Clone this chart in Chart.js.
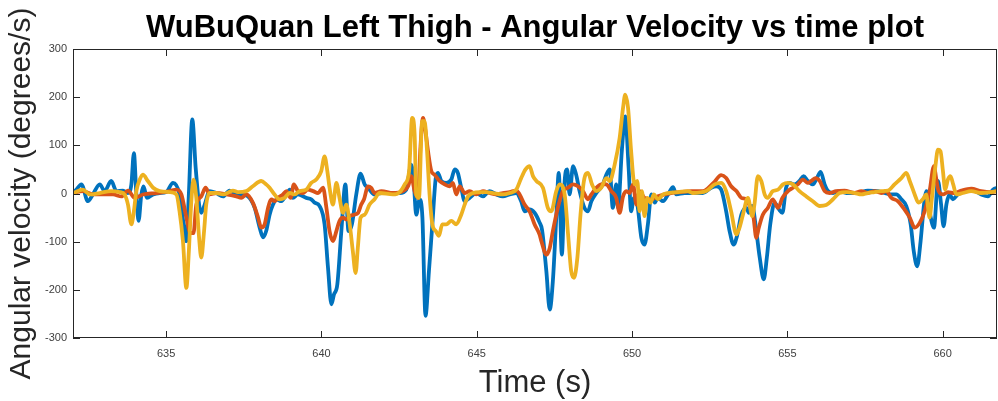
<!DOCTYPE html>
<html>
<head>
  <title>WuBuQuan Left Thigh - Angular Velocity</title>
  <script src="https://cdn.jsdelivr.net/npm/chart.js"></script>
  <style>
    html, body { margin: 0; padding: 0; background: #fff; }
  </style>
</head>
<body>

  <canvas id="velChart" width="998" height="401"></canvas>

  <script>
    // left thigh gyro, three axes: [time (s), angular velocity (deg/s)]
    const velX = [
      [632.00, 1], [632.11, 8], [632.27, 19], [632.48, -16], [632.64, -2], [632.86, 19], [633.02, 5], [633.23, 26],
      [633.40, 5], [633.61, 6], [633.77, 1], [633.88, 19], [633.96, 84], [634.04, -2], [634.11, -57], [634.20, -2],
      [634.27, 15], [634.38, -9], [634.58, -2], [634.79, 1], [635.00, 3], [635.22, 22], [635.43, -2], [635.59, -78],
      [635.65, -99], [635.73, -2], [635.84, 154], [635.95, 53], [636.06, -23], [636.13, -40], [636.24, -23], [636.40, 5],
      [636.61, 1], [636.83, -6], [637.04, 6], [637.20, 1], [637.42, -2], [637.63, -6], [637.85, -30], [638.01, -71],
      [638.12, -91], [638.22, -78], [638.33, -44], [638.44, -23], [638.55, -12], [638.71, -16], [638.87, -2], [638.98, 8],
      [639.08, -9], [639.24, -2], [639.51, -9], [639.67, -12], [639.78, -19], [639.94, -26], [640.10, -64], [640.21, -154],
      [640.32, -230], [640.40, -210], [640.51, -189], [640.64, -78], [640.77, 19], [640.87, -78], [640.98, -64], [641.12, -2],
      [641.26, 41], [641.39, 19], [641.50, 12], [641.71, -2], [641.93, 1], [642.52, 1], [642.73, 8], [642.89, 60],
      [642.97, 26], [643.05, -44], [643.16, -12], [643.25, -50], [643.35, -254], [643.46, -161], [643.57, -64], [643.68, 32],
      [643.75, 43], [643.86, 26], [644.02, 22], [644.18, 29], [644.29, 50], [644.39, 43], [644.50, 12], [644.61, -16],
      [644.77, -9], [644.98, 1], [645.20, -6], [645.41, 5], [645.63, -2], [645.84, -6], [646.06, -2], [646.27, 1],
      [646.43, -16], [646.54, -37], [646.70, -33], [646.86, -40], [647.02, -60], [647.10, -75], [647.24, -161], [647.35, -241],
      [647.45, -182], [647.56, -50], [647.64, 43], [647.74, -127], [647.83, 26], [647.91, 50], [647.99, -2], [648.10, 57],
      [648.20, 39], [648.31, 5], [648.47, -30], [648.58, -37], [648.69, -16], [648.85, 1], [649.06, 19], [649.17, 39],
      [649.28, 50], [649.38, -30], [649.49, 19], [649.55, -30], [649.67, 88], [649.78, 160], [649.89, 53], [649.97, -37],
      [650.06, -9], [650.17, -23], [650.30, -92], [650.40, -106], [650.51, -64], [650.62, -2], [650.73, -19], [650.83, -9],
      [651.00, -16], [651.16, -2], [651.32, 13], [651.42, -2], [651.69, 1], [651.96, 1], [652.28, 1], [652.55, 12],
      [652.71, 15], [652.87, 8], [653.03, -37], [653.14, -78], [653.27, -106], [653.38, -88], [653.52, -44], [653.68, -30],
      [653.76, -40], [653.87, -26], [654.00, -78], [654.11, -133], [654.24, -178], [654.34, -133], [654.45, -64], [654.59, -19],
      [654.73, -33], [654.84, -40], [654.96, 12], [655.07, 22], [655.23, 19], [655.39, 26], [655.52, 36], [655.66, 26],
      [655.82, 19], [655.95, 32], [656.07, 45], [656.20, 19], [656.31, 5], [656.47, 1], [656.68, 5], [656.90, 1],
      [657.27, 1], [657.59, 6], [657.92, 5], [658.13, 1], [658.35, -2], [658.51, -2], [658.67, -12], [658.83, -26],
      [658.97, -64], [659.07, -120], [659.18, -151], [659.29, -99], [659.40, -23], [659.48, 5], [659.58, -37], [659.72, -71],
      [659.85, 26], [659.95, -23], [660.03, -68], [660.12, -23], [660.22, -2], [660.33, -12], [660.49, -2], [660.81, 5],
      [661.03, 5], [661.24, -2], [661.46, -6], [661.62, 8], [661.78, 12]
    ];

    const velY = [
      [632.00, 1], [632.32, 5], [632.64, -2], [632.97, -2], [633.29, -2], [633.56, -6], [633.77, 6], [633.99, -9],
      [634.25, -2], [634.68, 1], [635.11, 5], [635.33, 8], [635.49, -2], [635.65, -50], [635.78, -82], [635.88, -82],
      [635.97, -23], [636.13, -6], [636.27, 12], [636.40, -2], [636.61, 1], [636.94, -2], [637.26, -6], [637.42, -9],
      [637.58, -2], [637.79, -19], [637.96, -50], [638.06, -71], [638.17, -64], [638.28, -30], [638.39, -12], [638.49, -16],
      [638.60, -9], [638.76, -2], [638.87, 5], [639.01, -9], [639.11, 19], [639.24, 5], [639.40, 1], [639.56, 8],
      [639.73, 5], [639.89, 1], [640.05, 12], [640.16, -30], [640.26, -78], [640.37, -99], [640.48, -78], [640.58, -57],
      [640.69, -50], [640.80, -54], [640.91, -47], [641.05, -44], [641.18, -40], [641.28, -23], [641.37, -12], [641.50, 15],
      [641.60, 12], [641.71, 1], [641.93, 5], [642.30, 1], [642.62, 5], [642.79, 15], [642.89, 36], [643.00, 5],
      [643.11, -9], [643.18, 88], [643.27, 157], [643.35, 129], [643.43, 88], [643.54, 46], [643.64, 39], [643.80, 26],
      [643.97, 19], [644.13, 15], [644.23, 22], [644.34, -2], [644.45, 15], [644.61, 1], [644.77, 5], [644.98, -2],
      [645.20, 5], [645.41, 1], [645.63, -2], [645.84, 1], [646.06, 3], [646.27, 6], [646.38, -2], [646.54, -23],
      [646.70, -37], [646.86, -64], [647.02, -85], [647.08, -99], [647.24, -127], [647.35, -113], [647.45, -78], [647.61, -30],
      [647.77, 5], [647.94, 12], [648.10, 19], [648.26, 15], [648.42, 5], [648.58, -12], [648.69, -2], [648.85, 12],
      [649.01, 19], [649.17, 19], [649.33, 5], [649.49, -9], [649.60, -40], [649.71, -6], [649.81, 5], [649.92, 1],
      [650.03, 19], [650.14, -23], [650.24, 5], [650.40, -9], [650.62, -12], [650.83, -6], [651.05, -2], [651.26, 1],
      [651.58, 3], [651.91, 5], [652.28, 5], [652.62, 22], [652.87, 38], [653.03, 32], [653.19, 15], [653.36, 5],
      [653.52, -9], [653.68, -12], [653.81, -30], [653.91, -50], [654.00, -92], [654.08, -71], [654.21, -44], [654.37, -30],
      [654.53, -12], [654.70, -30], [654.84, -9], [655.02, 5], [655.18, 12], [655.34, 19], [655.50, 29], [655.66, 22],
      [655.77, 26], [655.91, 32], [656.04, 26], [656.20, 5], [656.36, 1], [656.57, 5], [656.84, 6], [657.17, 1],
      [657.38, 5], [657.59, 1], [657.81, 5], [658.02, 1], [658.18, 5], [658.35, -9], [658.56, -16], [658.77, -33],
      [658.94, -50], [659.10, -71], [659.26, -61], [659.42, -37], [659.58, 5], [659.72, 57], [659.79, 32], [659.87, 5],
      [660.01, -2], [660.17, 3], [660.38, 1], [660.60, 6], [660.92, 10], [661.24, 5], [661.56, 3], [661.78, 5]
    ];

    const velZ = [
      [632.00, 1], [632.32, 8], [632.54, -2], [632.86, 1], [633.23, 5], [633.50, 3], [633.66, -2], [633.77, -23],
      [633.88, -64], [633.96, -37], [634.04, 5], [634.15, 29], [634.25, 39], [634.41, 26], [634.58, 12], [634.79, 5],
      [635.11, 3], [635.33, -2], [635.43, -37], [635.54, -99], [635.65, -196], [635.73, -120], [635.81, -16], [635.88, 29],
      [635.97, -9], [636.06, -92], [636.13, -133], [636.22, -78], [636.29, -23], [636.40, 1], [636.61, 1], [636.83, -2],
      [637.15, 6], [637.31, 3], [637.58, 5], [637.79, 15], [638.06, 26], [638.22, 19], [638.33, 12], [638.49, -2],
      [638.65, -12], [638.81, -9], [638.98, 1], [639.14, -2], [639.30, 5], [639.51, 8], [639.67, 22], [639.83, 29],
      [639.99, 46], [640.10, 77], [640.19, 46], [640.26, 12], [640.37, -23], [640.48, 22], [640.58, -9], [640.69, -40],
      [640.80, -23], [640.91, -64], [641.01, -120], [641.10, -165], [641.17, -113], [641.26, -50], [641.39, -44], [641.55, -23],
      [641.71, -12], [641.87, 1], [642.30, -2], [642.52, 3], [642.68, 19], [642.82, 46], [642.92, 157], [643.00, 122],
      [643.05, -2], [643.14, -9], [643.24, 150], [643.32, 150], [643.40, 88], [643.48, -2], [643.57, -64], [643.68, -78],
      [643.78, -88], [643.89, -64], [644.02, -64], [644.18, -57], [644.34, -64], [644.50, -44], [644.61, -23], [644.72, -6],
      [644.88, 1], [645.09, 3], [645.31, 3], [645.52, 1], [645.84, -2], [646.06, 1], [646.27, 8], [646.43, 32],
      [646.57, 50], [646.70, 57], [646.81, 36], [646.92, 26], [647.13, 12], [647.29, -30], [647.40, -37], [647.56, 5],
      [647.67, 19], [647.83, -2], [647.94, -85], [648.04, -161], [648.13, -175], [648.24, -133], [648.34, -44], [648.45, 26],
      [648.58, 43], [648.71, 19], [648.85, 5], [649.01, 12], [649.17, 32], [649.28, 26], [649.44, 60], [649.60, 115],
      [649.71, 178], [649.78, 205], [649.87, 178], [649.97, 88], [650.08, 19], [650.17, 26], [650.24, -37], [650.32, 5],
      [650.40, -47], [650.49, -9], [650.60, -19], [650.70, -2], [650.83, -12], [651.00, -2], [651.16, 1], [651.48, 3],
      [651.80, 5], [651.96, 1], [652.39, 5], [652.66, 19], [652.87, 22], [653.03, 5], [653.19, -37], [653.36, -85],
      [653.46, -71], [653.57, -44], [653.73, -9], [653.87, -47], [653.94, -23], [654.05, 36], [654.16, 26], [654.27, -2],
      [654.37, -9], [654.53, 5], [654.70, 8], [654.86, 19], [655.02, 22], [655.18, 19], [655.39, 5], [655.61, -6],
      [655.82, -16], [656.04, -26], [656.25, -24], [656.47, -12], [656.68, 1], [656.90, 3], [657.17, 1], [657.38, -2],
      [657.59, 1], [657.81, 3], [658.02, 5], [658.24, 6], [658.45, 19], [658.67, 32], [658.83, 43], [658.94, 26],
      [659.10, -2], [659.22, -19], [659.36, -12], [659.47, -2], [659.58, -50], [659.65, -12], [659.76, 53], [659.85, 91],
      [659.93, 88], [660.01, 46], [660.08, 8], [660.17, 29], [660.25, 36], [660.34, 19], [660.44, -2], [660.65, 1],
      [660.92, 5], [661.24, 1], [661.56, 3], [661.78, 5]
    ];

    const xTicks = [635, 640, 645, 650, 655, 660];
    const yTicks = [-300, -200, -100, 0, 100, 200, 300];

    const toPoints = arr => arr.map(p => ({ x: p[0], y: p[1] }));

    // MATLAB style axes: box outline plus tick marks pointing inward on all four sides
    const axesBox = {
      id: 'axesBox',
      afterDatasetsDraw(chart) {
        const { ctx, chartArea: a, scales } = chart;
        const len = 7;
        ctx.save();
        ctx.strokeStyle = '#262626';
        ctx.lineWidth = 1;
        ctx.beginPath();
        scales.x.ticks.forEach(t => {
          const px = Math.round(scales.x.getPixelForValue(t.value)) + 0.5;
          ctx.moveTo(px, a.bottom); ctx.lineTo(px, a.bottom - len);
          ctx.moveTo(px, a.top); ctx.lineTo(px, a.top + len);
        });
        scales.y.ticks.forEach(t => {
          const py = Math.round(scales.y.getPixelForValue(t.value)) + 0.5;
          ctx.moveTo(a.left, py); ctx.lineTo(a.left + len, py);
          ctx.moveTo(a.right, py); ctx.lineTo(a.right - len, py);
        });
        ctx.stroke();
        ctx.strokeRect(a.left + 0.5, a.top + 0.5, a.right - a.left - 1, a.bottom - a.top - 1);
        ctx.restore();
      }
    };

    const line = (label, arr, color, order) => ({
      label: label,
      data: toPoints(arr),
      borderColor: color,
      backgroundColor: color,
      borderWidth: 3.8,
      pointRadius: 0,
      cubicInterpolationMode: 'monotone',
      borderJoinStyle: 'round',
      borderCapStyle: 'round',
      order: order
    });

    const ctx = document.getElementById('velChart').getContext('2d');
    new Chart(ctx, {
      type: 'line',
      data: {
        datasets: [
          line('X', velX, '#0072BD', 3),
          line('Y', velY, '#D95319', 2),
          line('Z', velZ, '#EDB120', 1)
        ]
      },
      plugins: [axesBox],
      options: {
        responsive: false,
        animation: false,
        events: [],
        layout: { padding: { left: 0, right: 1, top: 0, bottom: 0 } },
        plugins: {
          legend: { display: false },
          tooltip: { enabled: false },
          title: {
            display: true,
            text: 'WuBuQuan Left Thigh - Angular Velocity vs time plot',
            fullSize: false,
            color: '#000',
            font: { family: 'Liberation Sans, Arial, sans-serif', size: 31, weight: 'bold', lineHeight: 1.2 },
            padding: { top: 10, bottom: 1.8 }
          }
        },
        scales: {
          x: {
            type: 'linear',
            min: 632,
            max: 661.75,
            afterFit: s => { s.height = 63; },
            afterBuildTicks: s => { s.ticks = xTicks.map(v => ({ value: v })); },
            grid: { display: false, drawTicks: false },
            border: { display: false },
            ticks: {
              padding: 9,
              color: '#404040',
              maxRotation: 0,
              font: { family: 'Liberation Sans, Arial, sans-serif', size: 11 }
            },
            title: {
              display: true,
              text: 'Time (s)',
              color: '#262626',
              font: { family: 'Liberation Sans, Arial, sans-serif', size: 31, lineHeight: 1 },
              padding: { top: 0, bottom: 2.5 }
            }
          },
          y: {
            min: -300,
            max: 300,
            afterFit: s => { s.width = 73; },
            afterBuildTicks: s => { s.ticks = yTicks.map(v => ({ value: v })); },
            grid: { display: false, drawTicks: false },
            border: { display: false },
            ticks: {
              padding: 6,
              color: '#404040',
              font: { family: 'Liberation Sans, Arial, sans-serif', size: 11 }
            },
            title: {
              display: true,
              text: 'Angular velocity (degrees/s)',
              color: '#262626',
              font: { family: 'Liberation Sans, Arial, sans-serif', size: 30, lineHeight: 1 },
              padding: { top: 7, bottom: 0 }
            }
          }
        }
      }
    });
  </script>
</body>
</html>
